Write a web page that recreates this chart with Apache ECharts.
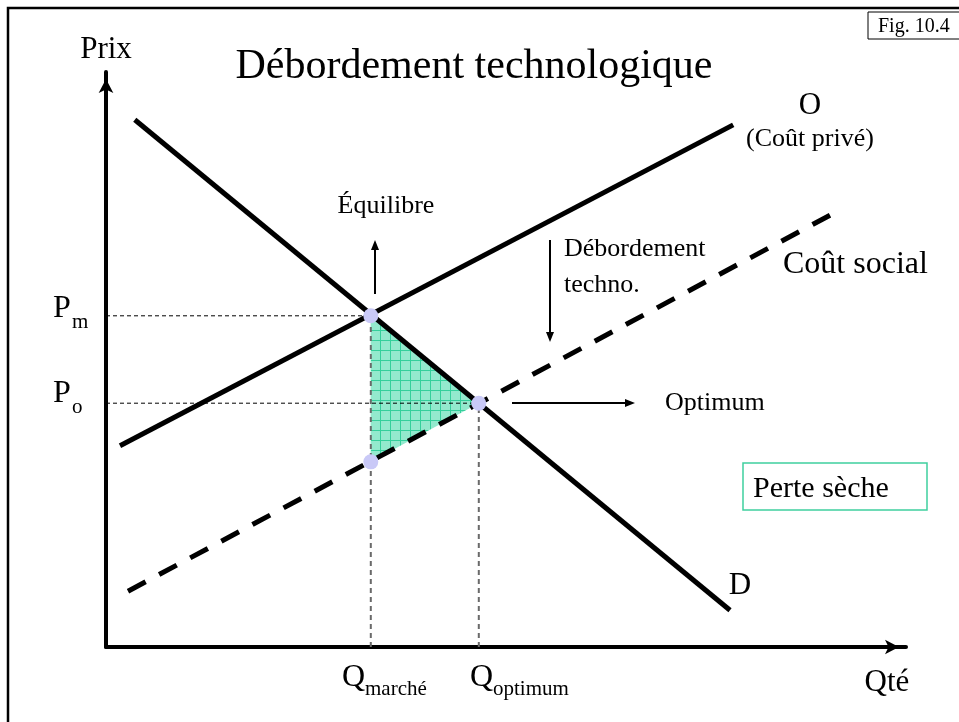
<!DOCTYPE html>
<html>
<head>
<meta charset="utf-8">
<script src="https://cdn.jsdelivr.net/npm/echarts@6/dist/echarts.min.js"></script>
<style>
  html, body { margin: 0; padding: 0; background: #fff; }
  #chart { width: 959px; height: 722px; }
</style>
</head>
<body>
<div id="chart"></div>
<script>
// curves: two end points each (quantity, price), axis 0..100
const demandQ = [3.6, 78.0];
const demandP = [91.7, 6.4];
const supplyQ = [1.75, 78.4];
const supplyP = [35.0, 90.8];
const socialQ = [2.75, 90.5];
const socialP = [9.7, 75.1];

// equilibrium / optimum
const qMarket = 33.1;
const pMarket = 57.6;
const qOptimum = 46.6;
const pOptimum = 42.4;
const pSocialAtMarket = 32.2;

const SERIF = "'Liberation Serif', 'Times New Roman', serif";

const pair = (xs, ys) => xs.map((x, i) => [x, ys[i]]);

// hatched mint fill for the deadweight loss
const pat = document.createElement('canvas');
pat.width = 10; pat.height = 10;
const pc = pat.getContext('2d');
pc.fillStyle = '#93e9cd';
pc.fillRect(0, 0, 10, 10);
pc.fillStyle = '#34cf9b';
pc.fillRect(0, 0, 10, 1);
pc.fillRect(0, 0, 1, 10);

function txt(text, x, y, size, align, extra) {
  return Object.assign({
    type: 'text', x: x, y: y, silent: true, z: 50,
    style: { text: text, fontFamily: SERIF, fontSize: size, fill: '#000',
             align: align || 'left', verticalAlign: 'middle' }
  }, extra || {});
}
function arrow(x1, y1, x2, y2) {
  const ang = Math.atan2(y2 - y1, x2 - x1), L = 10, W = 4;
  const bx = x2 - L * Math.cos(ang), by = y2 - L * Math.sin(ang);
  const nx = -Math.sin(ang) * W, ny = Math.cos(ang) * W;
  return [
    { type: 'line', silent: true, z: 50, shape: { x1: x1, y1: y1, x2: bx, y2: by },
      style: { stroke: '#000', lineWidth: 2 } },
    { type: 'polygon', silent: true, z: 50,
      shape: { points: [[x2, y2], [bx + nx, by + ny], [bx - nx, by - ny]] },
      style: { fill: '#000' } }
  ];
}

const chart = echarts.init(document.getElementById('chart'));

const thin = { type: [4, 3], width: 1, color: '#000' };
const grey = { type: [5, 4], width: 2, color: '#6a6a6a' };

chart.setOption({
  animation: false,
  grid: { left: 106, top: 72, width: 800, height: 575 },
  xAxis: {
    type: 'value', min: 0, max: 100,
    splitLine: { show: false }, axisTick: { show: false }, axisLabel: { show: false },
    axisLine: { lineStyle: { color: '#000', width: 4 }, symbol: ['none', 'arrow'],
                symbolSize: [11, 14], symbolOffset: [0, -7] }
  },
  yAxis: {
    type: 'value', min: 0, max: 100,
    splitLine: { show: false }, axisTick: { show: false }, axisLabel: { show: false },
    axisLine: { lineStyle: { color: '#000', width: 4 }, symbol: ['none', 'arrow'],
                symbolSize: [11, 14], symbolOffset: [0, -7] }
  },
  series: [
    {
      type: 'custom', z: 1, silent: true,
      data: [[qMarket, pMarket], [qOptimum, pOptimum], [qMarket, pSocialAtMarket]],
      renderItem: function (params, api) {
        if (params.dataIndex !== 0) return;
        const pts = [
          api.coord([qMarket, pMarket]),
          api.coord([qOptimum, pOptimum]),
          api.coord([qMarket, pSocialAtMarket])
        ];
        return { type: 'polygon', shape: { points: pts },
                 style: { fill: { image: pat, repeat: 'repeat' } } };
      }
    },
    { type: 'line', z: 2, silent: true, showSymbol: false, lineStyle: thin,
      data: [[0, pMarket], [qMarket, pMarket]] },
    { type: 'line', z: 2, silent: true, showSymbol: false, lineStyle: thin,
      data: [[0, pOptimum], [qOptimum, pOptimum]] },
    { type: 'line', z: 2, silent: true, showSymbol: false, lineStyle: grey,
      data: [[qMarket, 0], [qMarket, pMarket]] },
    { type: 'line', z: 2, silent: true, showSymbol: false, lineStyle: grey,
      data: [[qOptimum, 0], [qOptimum, pOptimum]] },
    { name: 'D', type: 'line', z: 3, silent: true, showSymbol: false,
      lineStyle: { color: '#000', width: 5 }, data: pair(demandQ, demandP) },
    { name: 'O', type: 'line', z: 3, silent: true, showSymbol: false,
      lineStyle: { color: '#000', width: 5 }, data: pair(supplyQ, supplyP) },
    { name: 'Coût social', type: 'line', z: 3, silent: true, showSymbol: false,
      lineStyle: { color: '#000', width: 5, type: [20, 15.3], cap: 'butt' },
      data: pair(socialQ, socialP) },
    { type: 'scatter', z: 10, silent: true, symbolSize: 15,
      itemStyle: { color: '#c9c9f7', opacity: 1 },
      data: [[qMarket, pMarket], [qOptimum, pOptimum], [qMarket, pSocialAtMarket]] }
  ],
  graphic: [
    { type: 'polyline', silent: true, shape: { points: [[8, 722], [8, 8], [959, 8]] },
      style: { stroke: '#000', lineWidth: 2.5, fill: null } },
    { type: 'rect', silent: true, shape: { x: 868, y: 12, width: 100, height: 27 },
      style: { stroke: '#000', lineWidth: 1, fill: '#fff' } },
    txt('Fig. 10.4', 878, 27, 20),
    txt('Débordement technologique', 474, 67, 42, 'center'),
    txt('Prix', 106, 50, 31, 'center'),
    txt('O', 810, 106, 31, 'center'),
    txt('(Coût privé)', 810, 139, 26, 'center'),
    txt('Équilibre', 386, 206, 26, 'center'),
    txt('Débordement', 564, 249, 26),
    txt('techno.', 564, 285, 26),
    txt('Coût social', 783, 265, 32),
    txt('Optimum', 665, 403, 26),
    { type: 'rect', silent: true, shape: { x: 743, y: 463, width: 184, height: 47 },
      style: { stroke: '#3fcf9f', lineWidth: 1.5, fill: '#fff' } },
    txt('Perte sèche', 753, 489, 30),
    txt('D', 740, 586, 31, 'center'),
    txt('Qté', 887, 683, 31, 'center'),
    txt('P', 53, 309, 32),
    txt('m', 72, 322, 21),
    txt('P', 53, 394, 32),
    txt('o', 72, 407, 21),
    txt('Q', 342, 678, 32),
    txt('marché', 365, 689, 21),
    txt('Q', 470, 678, 32),
    txt('optimum', 493, 689, 21)
  ].concat(arrow(375, 294, 375, 240), arrow(550, 240, 550, 342), arrow(512, 403, 635, 403))
});
</script>
</body>
</html>
